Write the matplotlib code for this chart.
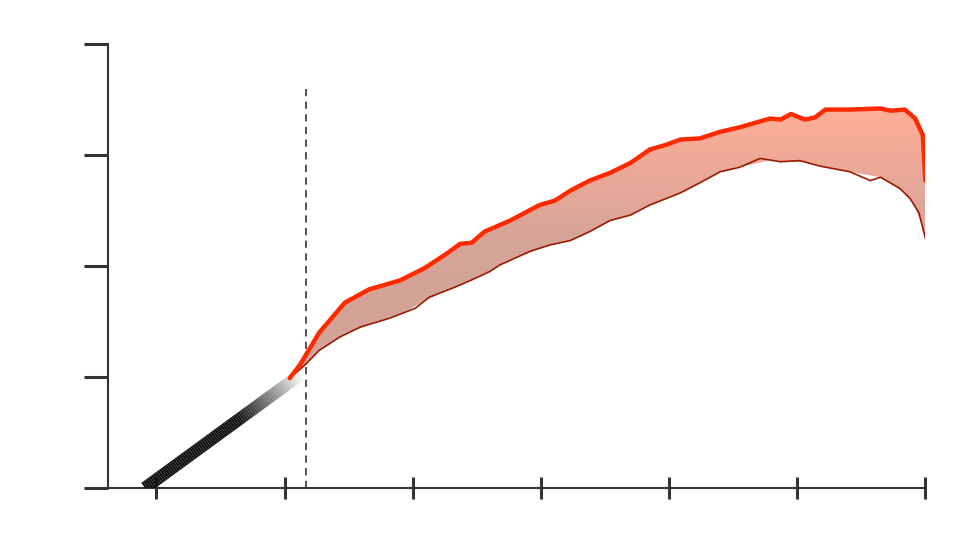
import matplotlib
matplotlib.use("Agg")
import matplotlib.pyplot as plt
import numpy as np
from matplotlib.collections import LineCollection
from matplotlib.colors import LinearSegmentedColormap

# upper (bright red) curve
upper_x = [1.04, 1.12, 1.27, 1.47, 1.66, 1.90, 2.09, 2.25, 2.37, 2.46, 2.56, 2.76, 2.99, 3.11,
           3.23, 3.38, 3.54, 3.70, 3.85, 3.97, 4.09, 4.24, 4.40, 4.55, 4.79, 4.87, 4.95, 5.06,
           5.14, 5.22, 5.41, 5.65, 5.73, 5.84, 5.92, 5.98, 6.0]
upper_y = [0.99, 1.11, 1.40, 1.67, 1.79, 1.87, 1.98, 2.10, 2.20, 2.21, 2.31, 2.41, 2.55, 2.59,
           2.68, 2.77, 2.84, 2.93, 3.05, 3.09, 3.14, 3.15, 3.21, 3.25, 3.33, 3.32, 3.37, 3.32,
           3.34, 3.41, 3.41, 3.42, 3.40, 3.41, 3.33, 3.18, 2.77]
# lower (dark red) curve
lower_x = [1.04, 1.16, 1.27, 1.43, 1.59, 1.82, 2.02, 2.13, 2.33, 2.45, 2.60, 2.68, 2.91, 3.07,
           3.23, 3.38, 3.54, 3.70, 3.85, 4.09, 4.24, 4.40, 4.55, 4.71, 4.87, 5.02, 5.18, 5.41,
           5.57, 5.65, 5.80, 5.88, 5.95, 6.0]
lower_y = [0.99, 1.11, 1.24, 1.36, 1.45, 1.53, 1.62, 1.72, 1.81, 1.87, 1.95, 2.01, 2.13, 2.19,
           2.23, 2.31, 2.41, 2.46, 2.55, 2.66, 2.75, 2.85, 2.89, 2.97, 2.94, 2.95, 2.90, 2.85,
           2.77, 2.80, 2.70, 2.61, 2.48, 2.25]
# black lead-in line
black_x = [-0.09, 1.12]
black_y = [0.0, 1.02]
marker_x = 1.17
x_ticks = [0, 1, 2, 3, 4, 5, 6]
y_ticks = [0, 1, 2, 3, 4]

fig = plt.figure(figsize=(9.71, 5.38), dpi=100)
ax = fig.add_axes([0.111, 0.093, 0.842, 0.825])
ax.set_xlim(-0.38, 6.0)
ax.set_ylim(0, 4.0)

# gradient fill between curves
low_on_up = np.interp(upper_x, lower_x, lower_y)
poly = ax.fill_between(upper_x, low_on_up, upper_y, color="none", lw=0)
cmap = LinearSegmentedColormap.from_list("g", ["#d2a398", "#d6a499", "#ffae96"])
grad = np.linspace(0, 1, 256).reshape(-1, 1)
img = ax.imshow(grad, cmap=cmap, aspect="auto", origin="lower",
                extent=[1.0, 6.0, 1.0, 3.45], zorder=2)
img.set_clip_path(poly.get_paths()[0], transform=ax.transData)

ax.plot(lower_x, lower_y, color="#9c1a00", lw=1.2, zorder=3)
ax.plot(upper_x, upper_y, color="#ff2a00", lw=3.2, zorder=4, solid_capstyle="round")

# black line fading out near the join
t = np.linspace(0, 1, 80)
bx = black_x[0] + t * (black_x[1] - black_x[0])
by = black_y[0] + t * (black_y[1] - black_y[0])
segs = [[(bx[i], by[i]), (bx[i + 1], by[i + 1])] for i in range(len(t) - 1)]
alphas = np.clip((1 - t[:-1]) / 0.4, 0.05, 1.0)
colors = [(0.07, 0.07, 0.07, a) for a in alphas]
ax.add_collection(LineCollection(segs, colors=colors, linewidths=9, zorder=3))

ax.axvline(marker_x, ymin=0, ymax=0.905, color="#444444", lw=1.3, ls=(0, (4, 3)), zorder=1)

for s in ["top", "right"]:
    ax.spines[s].set_visible(False)
for s in ["left", "bottom"]:
    ax.spines[s].set_color("#333333")
    ax.spines[s].set_linewidth(1.5)
ax.set_xticks(x_ticks)
ax.set_yticks(y_ticks)
ax.set_xticklabels([])
ax.set_yticklabels([])
ax.tick_params(axis="x", direction="inout", length=16, width=2.2, color="#333333")
ax.tick_params(axis="y", direction="out", length=17, width=2.2, color="#333333")

fig.savefig("out.png", dpi=100)
